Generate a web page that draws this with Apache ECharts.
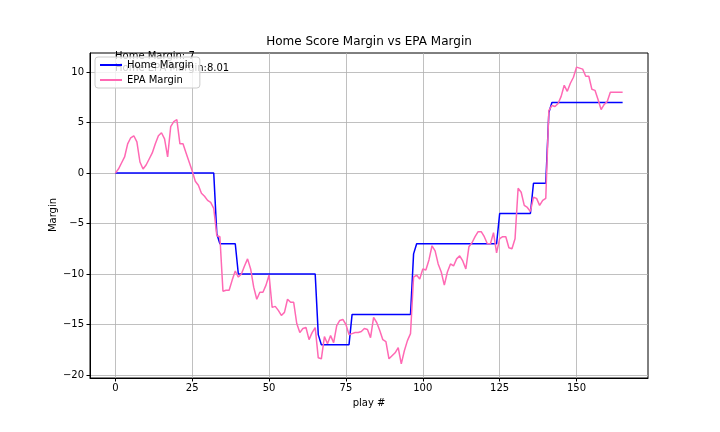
<!DOCTYPE html>
<html><head><meta charset="utf-8">
<script src="https://cdn.jsdelivr.net/npm/echarts@6/dist/echarts.min.js"></script>
<style>html,body{margin:0;padding:0;background:#fff}#c{width:720px;height:432px}</style>
</head><body><div id="c"></div>
<script>
// Home score margin per play (index = play #)
const homeMargin = [
  0,0,0,0,0,0,0,0,0,0, 0,0,0,0,0,0,0,0,0,0, 0,0,0,0,0,0,0,0,0,0, 0,0,0,-6,-7,-7,-7,-7,-7,-7,
  -10,-10,-10,-10,-10,-10,-10,-10,-10,-10, -10,-10,-10,-10,-10,-10,-10,-10,-10,-10, -10,-10,-10,-10,-10,-10,-16,-17,-17,-17,
  -17,-17,-17,-17,-17,-17,-17,-14,-14,-14, -14,-14,-14,-14,-14,-14,-14,-14,-14,-14, -14,-14,-14,-14,-14,-14,-14,-8,-7,-7,
  -7,-7,-7,-7,-7,-7,-7,-7,-7,-7, -7,-7,-7,-7,-7,-7,-7,-7,-7,-7, -7,-7,-7,-7,-7,-4,-4,-4,-4,-4,
  -4,-4,-4,-4,-4,-4,-1,-1,-1,-1, -1,6,7,7,7,7,7,7,7,7, 7,7,7,7,7,7,7,7,7,7, 7,7,7,7,7,7
];
// EPA margin per play (index = play #)
const epaMargin = [
  0.0,0.4,1.0,1.6,2.9,3.5,3.7,3.1,1.1,0.4,
  0.8,1.4,2.0,2.9,3.7,4.0,3.4,1.6,4.6,5.1,
  5.3,2.9,2.9,2.0,1.1,0.2,-0.8,-1.2,-2.0,-2.3,
  -2.7,-2.9,-3.5,-6.2,-6.3,-11.7,-11.6,-11.6,-10.6,-9.7,
  -10.3,-10.0,-9.2,-8.5,-9.5,-11.3,-12.5,-11.8,-11.8,-11.1,
  -10.1,-13.3,-13.2,-13.6,-14.1,-13.8,-12.5,-12.8,-12.8,-14.9,
  -15.8,-15.4,-15.3,-16.5,-15.8,-15.3,-18.3,-18.4,-16.2,-16.9,
  -16.1,-16.8,-15.1,-14.6,-14.5,-15.0,-16.0,-15.9,-15.8,-15.8,
  -15.7,-15.4,-15.5,-16.3,-14.3,-14.8,-15.6,-16.5,-16.7,-18.4,
  -18.1,-17.8,-17.3,-18.9,-17.6,-16.6,-15.9,-10.3,-10.1,-10.5,
  -9.5,-9.6,-8.6,-7.2,-7.7,-9.0,-9.8,-11.1,-9.8,-9.0,
  -9.2,-8.5,-8.2,-8.7,-9.5,-7.3,-6.9,-6.3,-5.8,-5.8,
  -6.3,-7.0,-7.0,-5.9,-7.9,-6.5,-6.3,-6.3,-7.4,-7.5,
  -6.5,-1.5,-1.9,-3.2,-3.4,-3.8,-2.4,-2.5,-3.2,-2.7,
  -2.5,6.2,6.7,6.6,6.9,7.6,8.7,8.1,8.9,9.5,
  10.5,10.4,10.3,9.6,9.6,8.3,8.2,7.3,6.3,6.8,
  7.1,8.0,8.01,8.01,8.01,8.01
];
const xTicks = [0, 25, 50, 75, 100, 125, 150];
const yTicks = [-20, -15, -10, -5, 0, 5, 10];
const seriesNames = ['Home Margin', 'EPA Margin'];
const titleText = 'Home Score Margin vs EPA Margin';
const xLabel = 'play #';
const yLabel = 'Margin';
const note1 = 'Home Margin: 7';
const note2 = 'Home EPA Margin:8.01';

const FONT = '"DejaVu Sans", "Liberation Sans", sans-serif';
const fmt = v => String(v).replace('-', '\u2212');
const chart = echarts.init(document.getElementById('c'), null, {renderer: 'canvas'});
chart.setOption({
  animation: false,
  backgroundColor: '#fff',
  textStyle: {fontFamily: FONT},
  grid: {left: 90, right: 72, top: 53, bottom: 54, show: true, borderColor: '#000', borderWidth: 1, backgroundColor: 'transparent'},
  xAxis: {
    type: 'value', min: -8.25, max: 173.25,
    axisLine: {show: true, onZero: false, lineStyle: {color: '#000', width: 1}},
    axisTick: {show: true, length: 3.5, lineStyle: {color: '#000', width: 1}, customValues: xTicks},
    axisLabel: {customValues: xTicks, color: '#000', fontSize: 10, margin: 5, fontFamily: FONT, formatter: fmt},
    splitLine: {show: true, lineStyle: {color: '#b0b0b0', width: 0.8}}
  },
  yAxis: {
    type: 'value', min: -20.3, max: 11.9,
    axisLine: {show: true, onZero: false, lineStyle: {color: '#000', width: 1}},
    axisTick: {show: true, length: 3.5, lineStyle: {color: '#000', width: 1}, customValues: yTicks},
    axisLabel: {customValues: yTicks, color: '#000', fontSize: 10, margin: 6, fontFamily: FONT, formatter: fmt},
    splitLine: {show: true, lineStyle: {color: '#b0b0b0', width: 0.8}}
  },
  legend: {
    orient: 'vertical', left: 95, top: 57, padding: [3, 6, 3, 4],
    itemWidth: 22, itemHeight: 10, itemGap: 5,
    itemStyle: {opacity: 0},
    backgroundColor: 'rgba(255,255,255,0.8)', borderColor: '#cccccc', borderWidth: 1, borderRadius: 3,
    textStyle: {fontSize: 10, color: '#000', fontFamily: FONT},
    data: seriesNames, z: 10
  },
  series: [
    {name: seriesNames[0], type: 'line', symbol: 'none', showSymbol: false,
     data: homeMargin.map((v, i) => [i, v]),
     lineStyle: {color: '#0000ff', width: 1.5}, itemStyle: {color: '#0000ff'}, z: 2},
    {name: seriesNames[1], type: 'line', symbol: 'none', showSymbol: false,
     data: epaMargin.map((v, i) => [i, v]),
     lineStyle: {color: '#ff69b4', width: 1.5}, itemStyle: {color: '#ff69b4'}, z: 3}
  ],
  graphic: [
    {type: 'text', x: 369, y: 42, z: 1, style: {text: titleText, font: '12px ' + FONT, fill: '#000', textAlign: 'center', textVerticalAlign: 'middle', align: 'center', verticalAlign: 'middle'}},
    {type: 'text', x: 369, y: 403, z: 1, style: {text: xLabel, font: '10px ' + FONT, fill: '#000', textAlign: 'center', textVerticalAlign: 'middle', align: 'center', verticalAlign: 'middle'}},
    {type: 'text', x: 53, y: 215, rotation: Math.PI / 2, z: 1, style: {text: yLabel, font: '10px ' + FONT, fill: '#000', textAlign: 'center', textVerticalAlign: 'middle', align: 'center', verticalAlign: 'middle'}},
    {type: 'text', x: 115, y: 56, z: 1, style: {text: note1, font: '10px ' + FONT, fill: '#000', textAlign: 'left', textVerticalAlign: 'middle', align: 'left', verticalAlign: 'middle'}},
    {type: 'text', x: 115, y: 68, z: 1, style: {text: note2, font: '10px ' + FONT, fill: '#000', textAlign: 'left', textVerticalAlign: 'middle', align: 'left', verticalAlign: 'middle'}}
  ]
});
</script>
</body></html>
